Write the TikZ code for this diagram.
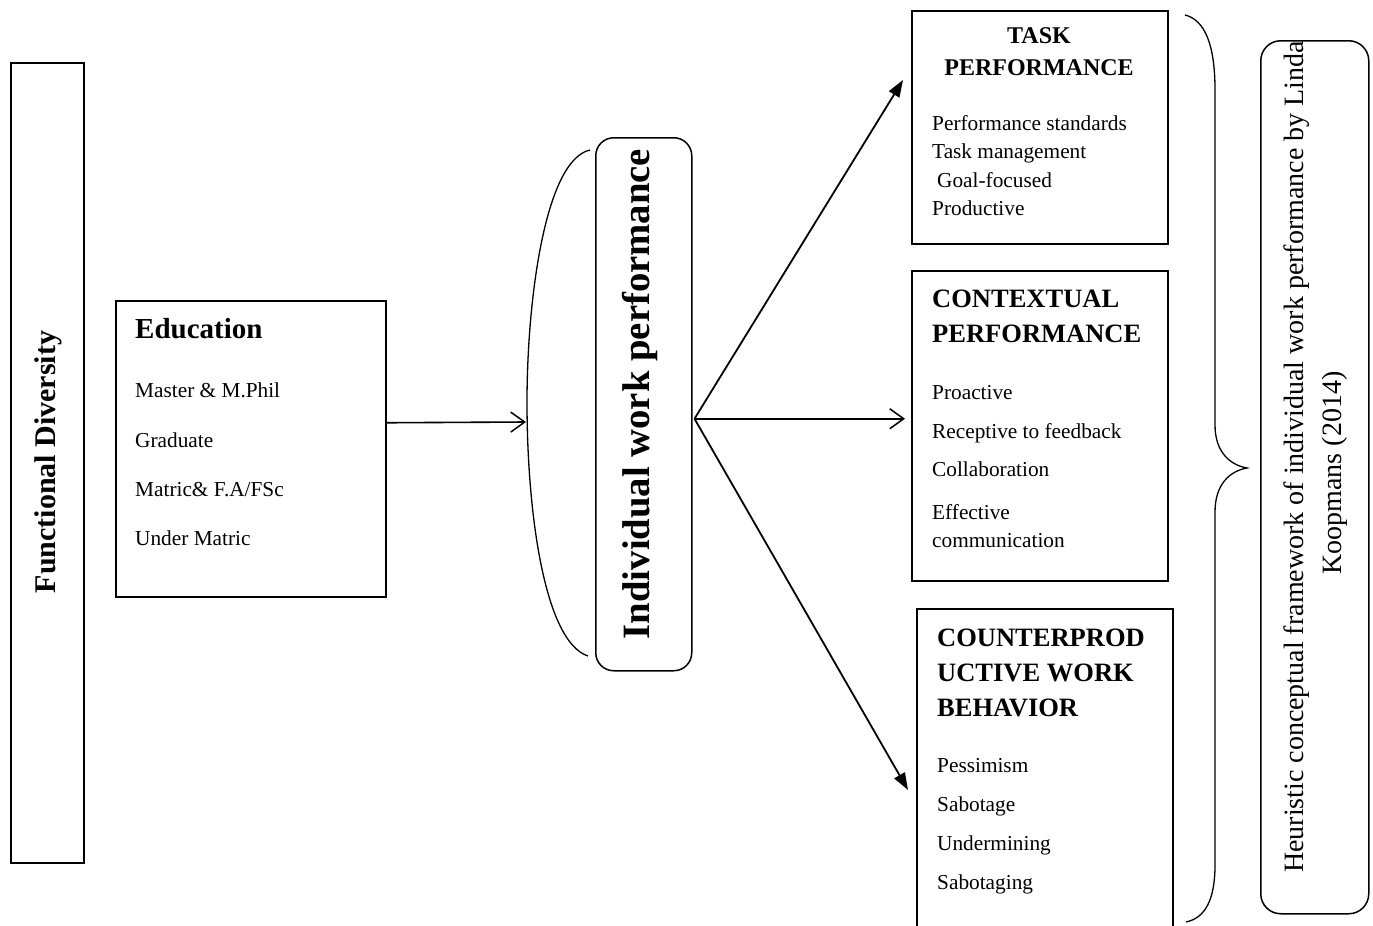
\documentclass[tikz,border=0pt]{standalone}
\usepackage{fontspec}
\setmainfont{Liberation Serif}
\usetikzlibrary{arrows.meta,calc}
\tikzset{
  box/.style={draw, line width=1.5pt, rectangle, inner sep=0pt, anchor=north west},
  rbox/.style={draw, line width=1.5pt, rectangle, rounded corners=18pt, inner sep=0pt, anchor=north west},
  item/.style={anchor=base west, inner sep=0pt, font=\fontsize{21.3}{25}\selectfont},
  ttl/.style={anchor=base west, inner sep=0pt, font=\bfseries\fontsize{26.5}{30}\selectfont},
  conn/.style={line width=1.8pt},
  openhead/.style={-{Straight Barb[length=14pt,width=20pt,line width=1.5pt]}},
  fillhead/.style={-{Triangle[length=17pt,width=12pt]}}
}
\begin{document}
\begin{tikzpicture}[x=1pt,y=-1pt]
\useasboundingbox (0,0) rectangle (1373,926);
\clip (0,0) rectangle (1373,926);

% Functional Diversity
\node[box, minimum width=73, minimum height=800] (fd) at (10,62) {};
\node[rotate=90, font=\bfseries\fontsize{30}{34}\selectfont, inner sep=0pt] (fdt) at (48,462) {Functional Diversity};

% Education
\node[box, minimum width=270, minimum height=296] (edu) at (115,300) {};
\node[anchor=base west, inner sep=0pt, font=\bfseries\fontsize{29}{32}\selectfont] (edut) at (135,338) {Education};
\node[item] (e1) at (135,397) {Master \& M.Phil};
\node[item] (e2) at (135,447) {Graduate};
\node[item] (e3) at (135,496) {Matric\& F.A/FSc};
\node[item] (e4) at (135,545) {Under Matric};

% bracket
\draw[line width=1.3pt] (590,150) .. controls (545,160) and (527,300) .. (527,402)
   coordinate (brk) .. controls (527,515) and (545,642) .. (588,656);
\coordinate (brkin) at (526,422);

% IWP
\node[rbox, minimum width=96, minimum height=533] (iwp) at (595,137) {};
\node[rotate=90, font=\bfseries\fontsize{38.7}{42}\selectfont, inner sep=0pt] (iwpt) at (640,394) {Individual work performance};

% Task
\node[box, minimum width=256, minimum height=233] (task) at (911,10) {};
\node[anchor=base, inner sep=0pt, font=\bfseries\fontsize{24}{28}\selectfont] (t1) at (1039,43) {TASK};
\node[anchor=base, inner sep=0pt, font=\bfseries\fontsize{24}{28}\selectfont] (t2) at (1039,75) {PERFORMANCE};
\node[item] (ti1) at (932,130) {Performance standards};
\node[item] (ti2) at (932,158) {Task management};
\node[item] (ti3) at (937,187) {Goal-focused};
\node[item] (ti4) at (932,215) {Productive};

% Contextual
\node[box, minimum width=256, minimum height=310] (ctx) at (911,270) {};
\node[ttl] (c1) at (932,307) {CONTEXTUAL};
\node[ttl] (c2) at (932,342) {PERFORMANCE};
\node[item] (ci1) at (932,399) {Proactive};
\node[item] (ci2) at (932,438) {Receptive to feedback};
\node[item] (ci3) at (932,476) {Collaboration};
\node[item] (ci4) at (932,519) {Effective};
\node[item] (ci5) at (932,547) {communication};

% Counterproductive
\node[box, minimum width=256, minimum height=340] (cwb) at (916,608) {};
\node[ttl] (w1) at (937,646) {COUNTERPROD};
\node[ttl] (w2) at (937,681) {UCTIVE WORK};
\node[ttl] (w3) at (937,716) {BEHAVIOR};
\node[item] (wi1) at (937,772) {Pessimism};
\node[item] (wi2) at (937,811) {Sabotage};
\node[item] (wi3) at (937,850) {Undermining};
\node[item] (wi4) at (937,889) {Sabotaging};

% right brace
\draw[line width=1.3pt] (1185,15) .. controls (1205,20) and (1215,45) .. (1215,90)
  -- (1215,425) .. controls (1215,452) and (1230,465) .. (1247,468) coordinate (tip)
  .. controls (1230,471) and (1215,484) .. (1215,512)
  -- (1215,865) .. controls (1215,900) and (1205,918) .. (1186,922);

% Heuristic
\node[rbox, rounded corners=20pt, minimum width=108, minimum height=873] (heu) at (1260,40) {};
\node[rotate=90, inner sep=0pt, font=\fontsize{28}{32}\selectfont] (h1) at (1297,457) {Heuristic conceptual framework of individual work performance by Linda};
\node[rotate=90, inner sep=0pt, font=\fontsize{28}{32}\selectfont] (h2) at (1335,473) {Koopmans (2014)};

% connectors
\coordinate (hub) at ($(iwp.east)+(2,14.5)$);
\draw[conn, openhead, line width=1.6pt] ($(edu.east)+(0,-26)$) -- (brkin);
\draw[conn, fillhead] (hub) -- ($(task.north west)+(-8,70)$);
\draw[conn, openhead, line width=1.6pt] (hub) -- ($(ctx.west)+(-6,-7)$);
\draw[conn, fillhead] (hub) -- ($(cwb.north west)+(-8,182)$);
\end{tikzpicture}
\end{document}
